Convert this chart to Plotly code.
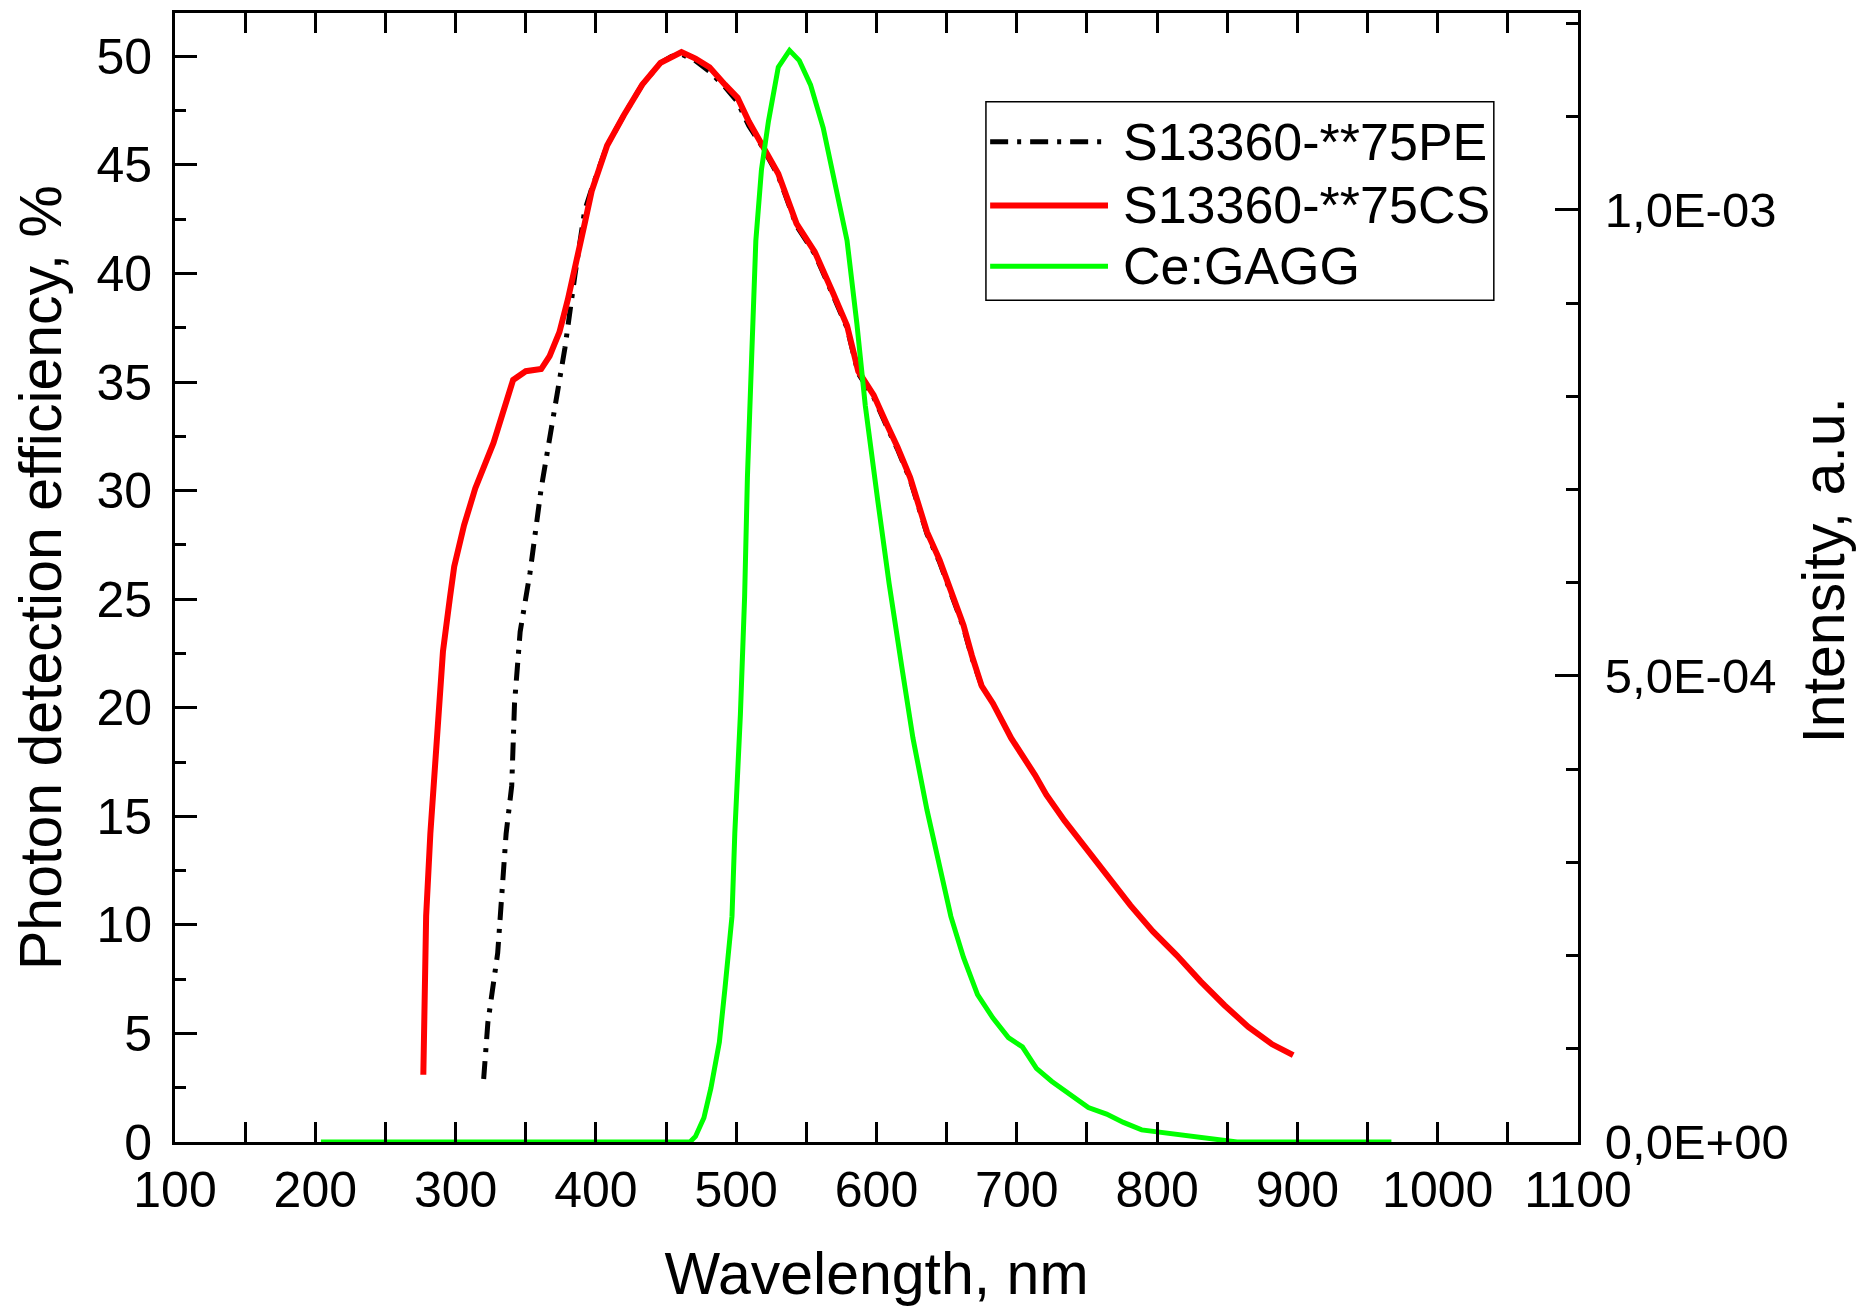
import plotly.graph_objects as go

# --- data ---
cs_wl = [277, 279, 282, 287, 291, 296, 299, 306, 314, 327, 338, 341, 350, 361, 367, 374, 380,
         388, 392, 397, 408, 420, 433, 446, 454, 461, 471, 481, 492, 501, 509, 518, 530, 543,
         556, 569, 579, 587, 598, 607, 615, 624, 636, 645, 653, 662, 668, 675, 683, 696, 713,
         721, 734, 751, 768, 781, 797, 814, 831, 848, 865, 882, 897]
cs_pde = [3.1, 10.4, 14.2, 18.6, 22.6, 25.1, 26.5, 28.4, 30.1, 32.2, 34.4, 35.1, 35.5, 35.6, 36.2,
          37.3, 38.8, 41.0, 42.3, 43.8, 45.9, 47.3, 48.7, 49.7, 50.0, 50.2, 49.9, 49.5, 48.7, 48.1,
          47.0, 46.0, 44.6, 42.3, 41.0, 39.1, 37.6, 35.5, 34.4, 33.1, 32.0, 30.6, 28.1, 26.8, 25.4,
          23.8, 22.4, 21.0, 20.2, 18.6, 16.9, 16.0, 14.8, 13.4, 12.0, 10.9, 9.7, 8.6, 7.4, 6.3,
          5.3, 4.5, 4.0]

pe_wl = [320, 323, 330, 336, 340, 342, 346, 353, 361, 369, 378, 385, 392, 397, 408, 420, 433,
         446, 454, 461, 471, 481, 492, 501, 509, 518, 530, 543, 556, 569, 579, 587, 598, 607,
         615, 624, 636, 645, 653, 662, 668, 675]
pe_pde = [2.9, 5.5, 8.7, 14.2, 16.4, 20.2, 23.5, 26.2, 30.1, 33.3, 36.6, 39.9, 42.9, 43.9, 45.9,
          47.3, 48.7, 49.7, 50.0, 50.1, 49.8, 49.3, 48.6, 47.9, 46.8, 45.9, 44.5, 42.2, 40.9,
          39.0, 37.5, 35.4, 34.3, 33.0, 31.9, 30.5, 28.0, 26.7, 25.3, 23.7, 22.3, 21.0]

gagg_wl = [204, 300, 400, 467, 471, 477, 482, 488, 492, 497, 499, 503, 506, 508, 511, 514, 518,
           523, 530, 538, 545, 553, 562, 570, 579, 586, 592, 601, 609, 618, 626, 636, 645, 653,
           662, 672, 683, 694, 704, 714, 725, 738, 751, 764, 776, 789, 810, 831, 857, 900, 967]
gagg_int = [0, 0, 0, 0, 0.006e-3, 0.026e-3, 0.058e-3, 0.107e-3, 0.165e-3, 0.242e-3, 0.331e-3,
            0.459e-3, 0.585e-3, 0.713e-3, 0.841e-3, 0.967e-3, 1.043e-3, 1.095e-3, 1.153e-3,
            1.171e-3, 1.160e-3, 1.134e-3, 1.088e-3, 1.032e-3, 0.967e-3, 0.878e-3, 0.790e-3,
            0.687e-3, 0.599e-3, 0.510e-3, 0.433e-3, 0.356e-3, 0.293e-3, 0.242e-3, 0.198e-3,
            0.158e-3, 0.133e-3, 0.112e-3, 0.102e-3, 0.079e-3, 0.065e-3, 0.051e-3, 0.037e-3,
            0.030e-3, 0.021e-3, 0.013e-3, 0.009e-3, 0.004e-3, 0.0, 0.0, 0.0]

y2_tickvals = [0, 5e-4, 1e-3]
y2_ticktext = ["0,0E+00", "5,0E-04", "1,0E-03"]
legend_names = ["S13360-**75PE", "S13360-**75CS", "Ce:GAGG"]

FONT = "Liberation Sans, Arial, sans-serif"
BLACK_DASH = "18px,9px,4px,9px"

fig = go.Figure()
fig.add_trace(go.Scatter(x=gagg_wl, y=gagg_int, mode="lines", name=legend_names[2],
                         line=dict(color="#00ff00", width=5), yaxis="y2"))
fig.add_trace(go.Scatter(x=pe_wl, y=pe_pde, mode="lines", name=legend_names[0],
                         line=dict(color="black", width=5, dash=BLACK_DASH)))
fig.add_trace(go.Scatter(x=cs_wl, y=cs_pde, mode="lines", name=legend_names[1],
                         line=dict(color="#ff0000", width=6)))

tickfont = dict(family=FONT, size=50, color="black")
titlefont = dict(family=FONT, size=59, color="black")

fig.update_layout(
    width=1857, height=1303,
    margin=dict(l=167, r=287, t=2, b=169),
    paper_bgcolor="white", plot_bgcolor="white",
    showlegend=False,
    xaxis=dict(range=[100, 1100], tick0=100, dtick=100, ticks="inside", ticklen=20, tickwidth=3,
               tickcolor="black", showline=True, linewidth=3, linecolor="black", mirror="allticks",
               showgrid=False, zeroline=False, tickfont=tickfont, ticklabelstandoff=2,
               minor=dict(dtick=50, ticks="inside", ticklen=10, tickwidth=3, tickcolor="black", showgrid=False),
               title=dict(text="Wavelength, nm", font=titlefont, standoff=36)),
    yaxis=dict(range=[0, 52], tick0=0, dtick=5, ticks="inside", ticklen=22, tickwidth=3,
               tickcolor="black", showline=True, linewidth=3, linecolor="black", mirror=False,
               showgrid=False, zeroline=False, tickfont=tickfont, ticklabelstandoff=10,
               minor=dict(dtick=2.5, ticks="inside", ticklen=11, tickwidth=3, tickcolor="black", showgrid=False),
               title=dict(text="Photon detection efficiency, %", font=titlefont, standoff=28)),
    yaxis2=dict(range=[0, 1.2111e-3], overlaying="y", side="right", tickmode="array",
                tickvals=y2_tickvals, ticktext=y2_ticktext, ticks="inside", ticklen=23, tickwidth=3,
                tickcolor="black", showline=True, linewidth=3, linecolor="black",
                showgrid=False, zeroline=False, tickfont=dict(family=FONT, size=49, color="black"),
                ticklabelstandoff=14,
                minor=dict(dtick=1e-4, tick0=0, ticks="inside", ticklen=12, tickwidth=3,
                           tickcolor="black", showgrid=False)),
)

# right axis title
fig.add_annotation(xref="paper", yref="paper", x=1.1753, y=0.507, text="Intensity, a.u.",
                   textangle=-90, showarrow=False, xanchor="center", yanchor="middle",
                   font=titlefont)

# custom legend (long line samples as in the reference)
legend_colors = ["black", "#ff0000", "#00ff00"]
legend_dash = [BLACK_DASH, "solid", "solid"]
legend_widths = [5, 6, 5]
row_y = [0.886, 0.8295, 0.7756]
fig.add_shape(type="rect", xref="paper", yref="paper", x0=0.578, x1=0.940, y0=0.7456, y1=0.9214,
              line=dict(color="black", width=1.5), fillcolor="white", layer="above")
for name, col, dsh, w, yy in zip(legend_names, legend_colors, legend_dash, legend_widths, row_y):
    fig.add_shape(type="line", xref="paper", yref="paper", x0=0.581, x1=0.665, y0=yy, y1=yy,
                  line=dict(color=col, width=w, dash=dsh), layer="above")
    fig.add_annotation(xref="paper", yref="paper", x=0.674, y=yy, text=name, showarrow=False,
                       xanchor="left", yanchor="middle", font=dict(family=FONT, size=52, color="black"))

fig.write_html("out.html")
